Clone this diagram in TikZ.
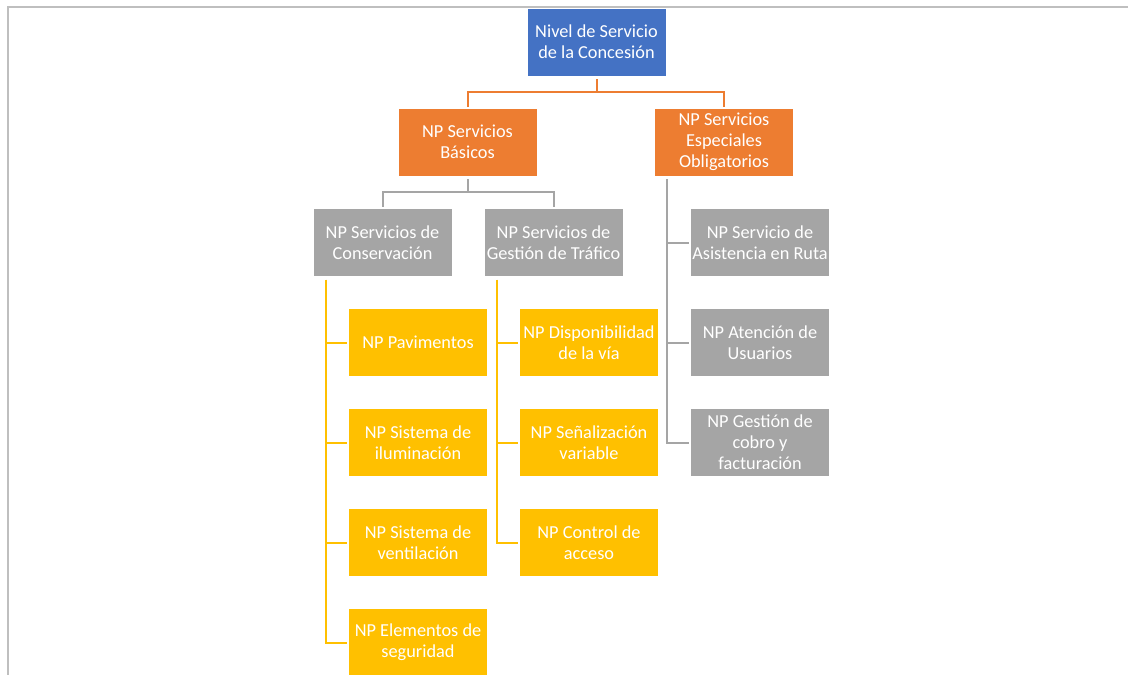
\documentclass[tikz,border=0pt]{standalone}
\usepackage{fontspec}
\setmainfont{Carlito}
\definecolor{cblue}{HTML}{4472C4}
\definecolor{corange}{HTML}{ED7D31}
\definecolor{cgray}{HTML}{A5A5A5}
\definecolor{cyellow}{HTML}{FFC000}
\definecolor{cframe}{HTML}{BFBFBF}
\tikzset{
  box/.style={rectangle, draw=white, line width=0.8pt, inner sep=0pt, minimum width=139pt, minimum height=68pt,
    align=center, text=white, font=\fontsize{18.3}{20.8}\selectfont},
  bluebox/.style={box, fill=cblue},
  orangebox/.style={box, fill=corange},
  graybox/.style={box, fill=cgray},
  yellowbox/.style={box, fill=cyellow},
  oline/.style={draw=corange, line width=2pt},
  gline/.style={draw=cgray, line width=2pt},
  yline/.style={draw=cyellow, line width=2pt},
}
\begin{document}
\begin{tikzpicture}[x=1pt,y=-1pt]
\useasboundingbox (0,0) rectangle (1128,675);
\draw[cframe, line width=2pt] (8,675) -- (8,7) -- (1128,7);

\node[bluebox] (top) at (596.5,42) {Nivel de Servicio\\de la Concesión};
\node[orangebox] (oL) at (467.5,142) {NP Servicios\\Básicos};
\node[orangebox] (oR) at (724,142) {NP Servicios\\Especiales\\Obligatorios};

\node[graybox] (gL) at (382.5,242.5) {NP Servicios de\\Conservación};
\node[graybox] (gM) at (553.5,242.5) {NP Servicios de\\Gestión de Tráfico};

\node[graybox] (r1) at (760,242.5) {NP Servicio de\\Asistencia en Ruta};
\node[graybox] (r2) at (760,342.5) {NP Atención de\\Usuarios};
\node[graybox] (r3) at (760,442.5) {NP Gestión de\\cobro y\\facturación};

\node[yellowbox] (y1) at (418,342.5) {NP Pavimentos};
\node[yellowbox] (y2) at (418,442.5) {NP Sistema de\\iluminación};
\node[yellowbox] (y3) at (418,542.5) {NP Sistema de\\ventilación};
\node[yellowbox] (y4) at (418,642.5) {NP Elementos de\\seguridad};

\node[yellowbox] (m1) at (589,342.5) {NP Disponibilidad\\de la vía};
\node[yellowbox] (m2) at (589,442.5) {NP Señalización\\variable};
\node[yellowbox] (m3) at (589,542.5) {NP Control de\\acceso};

% orange connectors
\draw[oline] ([yshift=-3pt]top.south) |- ([yshift=16pt]oL.north) -- ([yshift=1pt]oL.north);
\draw[oline] ([yshift=-3pt]top.south) |- ([yshift=16pt]oR.north) -- ([yshift=1pt]oR.north);
% gray connectors
\draw[gline] ([yshift=-3pt]oL.south) |- ([yshift=16pt]gL.north) -- ([yshift=1pt]gL.north);
\draw[gline] ([yshift=-3pt]oL.south) |- ([yshift=16pt]gM.north) -- ([yshift=1pt]gM.north);
\foreach \n in {r1,r2,r3}
  \draw[gline] ([xshift=13pt,yshift=-3pt]oR.south west) |- ([xshift=-1pt]\n.west);
% yellow connectors
\foreach \n in {y1,y2,y3,y4}
  \draw[yline] ([xshift=13pt,yshift=-3pt]gL.south west) |- ([xshift=-1pt]\n.west);
\foreach \n in {m1,m2,m3}
  \draw[yline] ([xshift=13pt,yshift=-3pt]gM.south west) |- ([xshift=-1pt]\n.west);
\end{tikzpicture}
\end{document}
